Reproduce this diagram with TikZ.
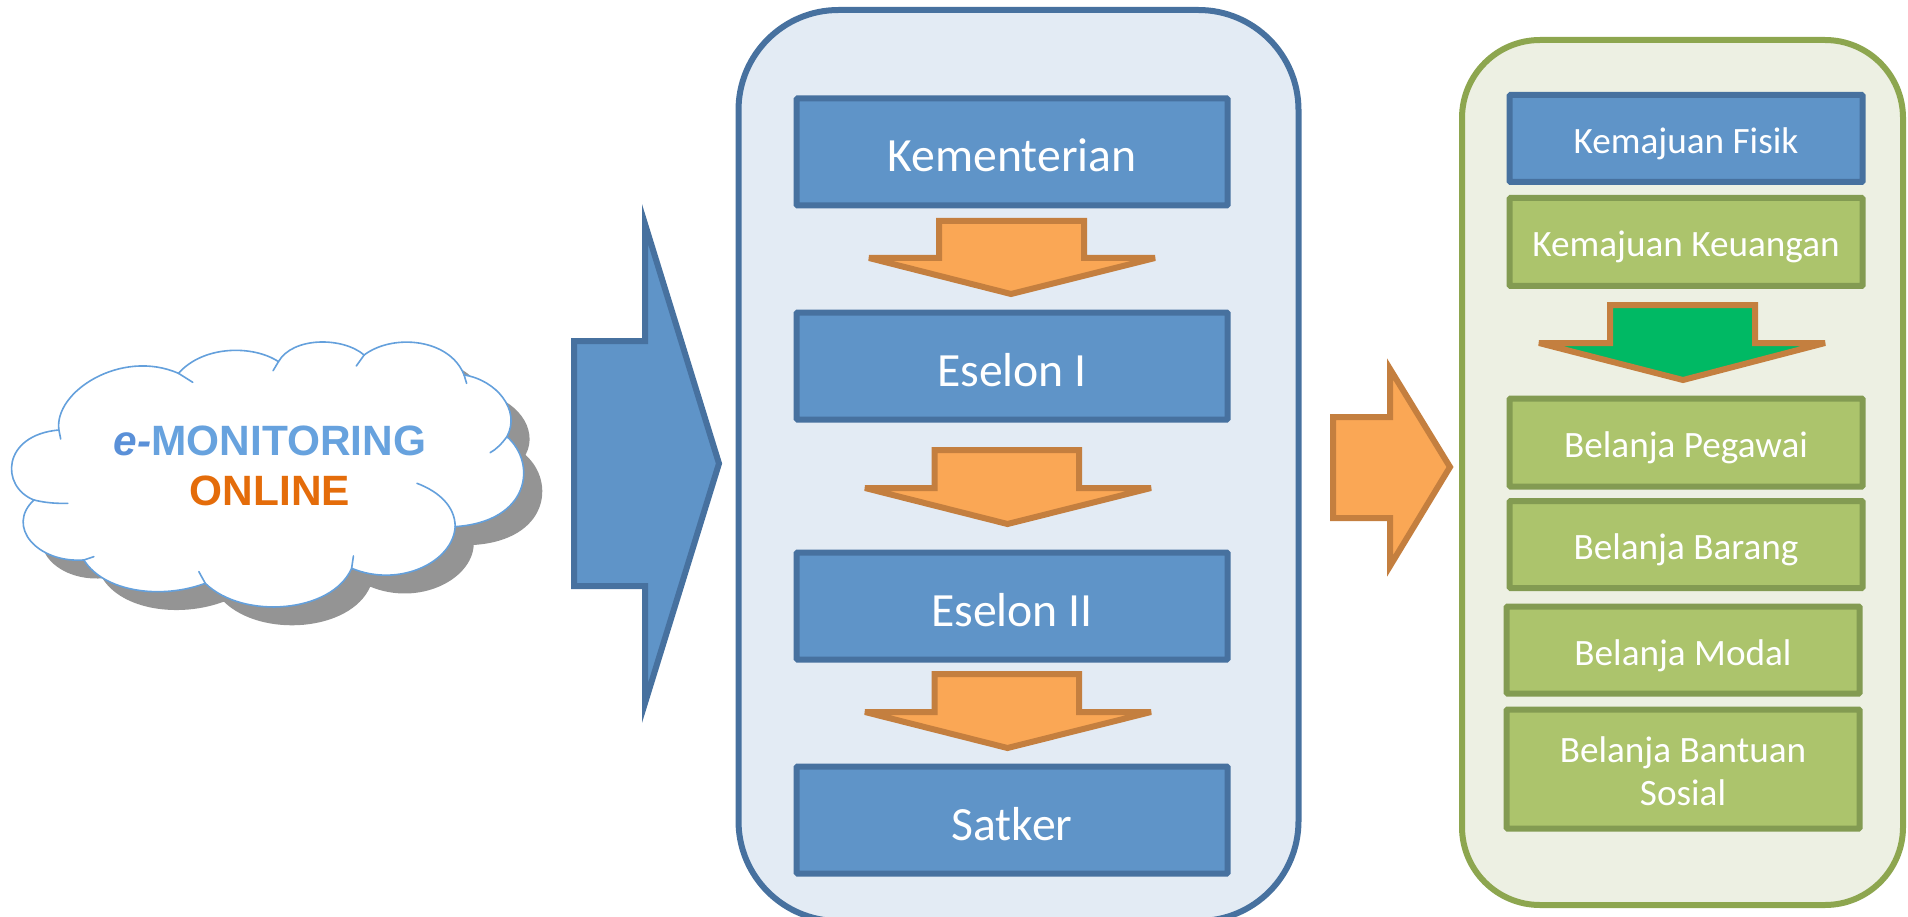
\documentclass[tikz,border=0pt]{standalone}
\usepackage{fontspec}
\setmainfont{Carlito}
\newfontfamily\cloudfont{Liberation Sans}
\definecolor{bluefill}{HTML}{5F94C8}
\definecolor{blueline}{HTML}{47719F}
\definecolor{paleblue}{HTML}{E3EBF4}
\definecolor{orangefill}{HTML}{FAA755}
\definecolor{orangeline}{HTML}{C47F3F}
\definecolor{palegreen}{HTML}{EDF0E3}
\definecolor{greenedge}{HTML}{8DA64F}
\definecolor{greenfill}{HTML}{ACC46C}
\definecolor{greenline}{HTML}{839B52}
\definecolor{vivid}{HTML}{00B964}
\definecolor{cloudline}{HTML}{64A0DC}
\definecolor{cloudshadow}{HTML}{949494}
\definecolor{textE}{HTML}{5A90D8}
\definecolor{textM}{HTML}{67A2DE}
\definecolor{textO}{HTML}{E46C0A}
\newcommand{\dn}[2][15pt]{\raisebox{-#1}[0pt][0pt]{#2}}
\newcommand{\cloudoutline}{
  (165,330) .. controls (150,215) and (340,85) .. (500,160)
  .. controls (570,75) and (710,75) .. (780,125)
  .. controls (820,50) and (960,50) .. (1020,105)
  .. controls (1100,40) and (1260,55) .. (1300,165)
  .. controls (1390,180) and (1460,270) .. (1420,350)
  .. controls (1505,430) and (1485,605) .. (1275,620)
  .. controls (1270,725) and (1120,805) .. (985,745)
  .. controls (930,880) and (680,900) .. (575,790)
  .. controls (450,840) and (290,815) .. (235,720)
  .. controls (105,730) and (15,620) .. (95,540)
  .. controls (0,500) and (5,345) .. (165,330) -- cycle}
\tikzset{
  x=1pt, y=-1pt,
  bluebox/.style={draw=blueline, fill=bluefill, line width=6pt, rounded corners=1pt, text=white, align=center, inner sep=0pt},
  greenbox/.style={draw=greenline, fill=greenfill, line width=6pt, rounded corners=1pt, text=white, align=center, inner sep=0pt},
  bigtext/.style={font=\fontsize{47.7}{56}\selectfont},
  smalltext/.style={font=\fontsize{37.2}{43.5}\selectfont},
  wide/.style={minimum width=431pt, minimum height=107pt},
  narrow/.style={minimum width=353pt},
  panelblue/.style={draw=blueline, fill=paleblue, line width=6pt, rounded corners=100pt},
  panelgreen/.style={draw=greenedge, fill=palegreen, line width=6pt, rounded corners=78pt},
  orangearrow/.style={draw=orangeline, fill=orangefill, line width=6pt, miter limit=3},
  orangehead/.style={draw=orangeline, fill=orangefill, line width=6pt, miter limit=10},
  greenarrow/.style={draw=orangeline, fill=vivid, line width=6pt, miter limit=3},
  bigarrow/.style={draw=blueline, fill=bluefill, line width=6pt, miter limit=10},
  cloudedge/.style={draw=cloudline, line width=1.6pt, line cap=round},
}
\begin{document}
\begin{tikzpicture}
\useasboundingbox (0,0) rectangle (1908,917);
% panels
\draw[panelblue] (738.5,10) rectangle (1298.5,921);
\draw[panelgreen] (1462,40) rectangle (1903,905);
% big arrows
\draw[bigarrow] (574,341) -- (645,341) -- (645,224) -- (719,463.5) -- (645,703) -- (645,586) -- (574,586) -- cycle;
\draw[orangehead] (1333,417) -- (1390,417) -- (1390,369) -- (1450,467) -- (1390,566) -- (1390,518) -- (1333,518) -- cycle;
% cloud
\begin{scope}[shift={(0,320)}, x=0.357pt, y=-0.3333pt]
  \fill[cloudshadow, shift={(52,55)}] \cloudoutline;
  \fill[white] \cloudoutline;
  \draw[cloudedge] \cloudoutline;
  \draw[cloudedge] (500,160) -- (540,187);
  \draw[cloudedge] (780,125) -- (765,152);
  \draw[cloudedge] (1020,105) -- (998,138);
  \draw[cloudedge] (1300,165) -- (1307,190);
  \draw[cloudedge] (1420,350) .. controls (1405,372) and (1390,388) .. (1373,398);
  \draw[cloudedge] (1275,620) .. controls (1275,560) and (1230,515) .. (1168,490);
  \draw[cloudedge] (985,745) -- (990,708);
  \draw[cloudedge] (575,790) -- (557,755);
  \draw[cloudedge] (235,720) -- (263,710);
  \draw[cloudedge] (95,540) .. controls (125,548) and (155,551) .. (190,550);
  \draw[cloudedge] (165,330) -- (170,357);
\end{scope}
\node (cloudtext) at (270,466) [align=center, font=\cloudfont\bfseries\fontsize{42.4}{50}\selectfont, inner sep=0pt]
  {{\color{textE}\itshape e-}{\color{textM}MONITORING}\\{\color{textO}ONLINE}};
% left column
\node (kem) [bluebox, wide, bigtext] at (1012,152) {\dn[20pt]{Kementerian}};
\node (es1) [bluebox, wide, bigtext] at (1012,366) {\dn[20pt]{Eselon I}};
\node (es2) [bluebox, wide, bigtext] at (1012,606) {\dn[20pt]{Eselon II}};
\node (sat) [bluebox, wide, bigtext] at (1012,820) {\dn[20pt]{Satker}};
\draw[orangearrow] (939,221) -- (1084,221) -- (1084,258) -- (1155,258) -- (1011,294) -- (869,258) -- (939,258) -- cycle;
\draw[orangearrow] (934.5,450) -- (1079,450) -- (1079,488) -- (1151,488) -- (1007.5,524) -- (865,488) -- (934.5,488) -- cycle;
\draw[orangearrow] (934.5,674) -- (1079,674) -- (1079,712) -- (1151,712) -- (1007.5,748) -- (865,712) -- (934.5,712) -- cycle;
% right column
\node (fis) [bluebox, narrow, smalltext, minimum height=87pt] at (1686,138.5) {\dn{Kemajuan Fisik}};
\node (keu) [greenbox, narrow, smalltext, minimum height=88pt] at (1686,242) {\dn{Kemajuan Keuangan}};
\draw[greenarrow] (1610,305) -- (1755,305) -- (1755,343) -- (1825,343) -- (1683,380) -- (1539,343) -- (1610,343) -- cycle;
\node (peg) [greenbox, narrow, smalltext, minimum height=88pt] at (1686,442.5) {\dn{Belanja Pegawai}};
\node (bar) [greenbox, narrow, smalltext, minimum height=87pt] at (1686,544.5) {\dn{Belanja Barang}};
\node (mod) [greenbox, narrow, smalltext, minimum height=87pt] at (1683,650) {\dn{Belanja Modal}};
\node (sos) [greenbox, narrow, smalltext, minimum height=119pt] at (1683,769) {\rule{0pt}{30pt}Belanja Bantuan\\Sosial};
\end{tikzpicture}
\end{document}
